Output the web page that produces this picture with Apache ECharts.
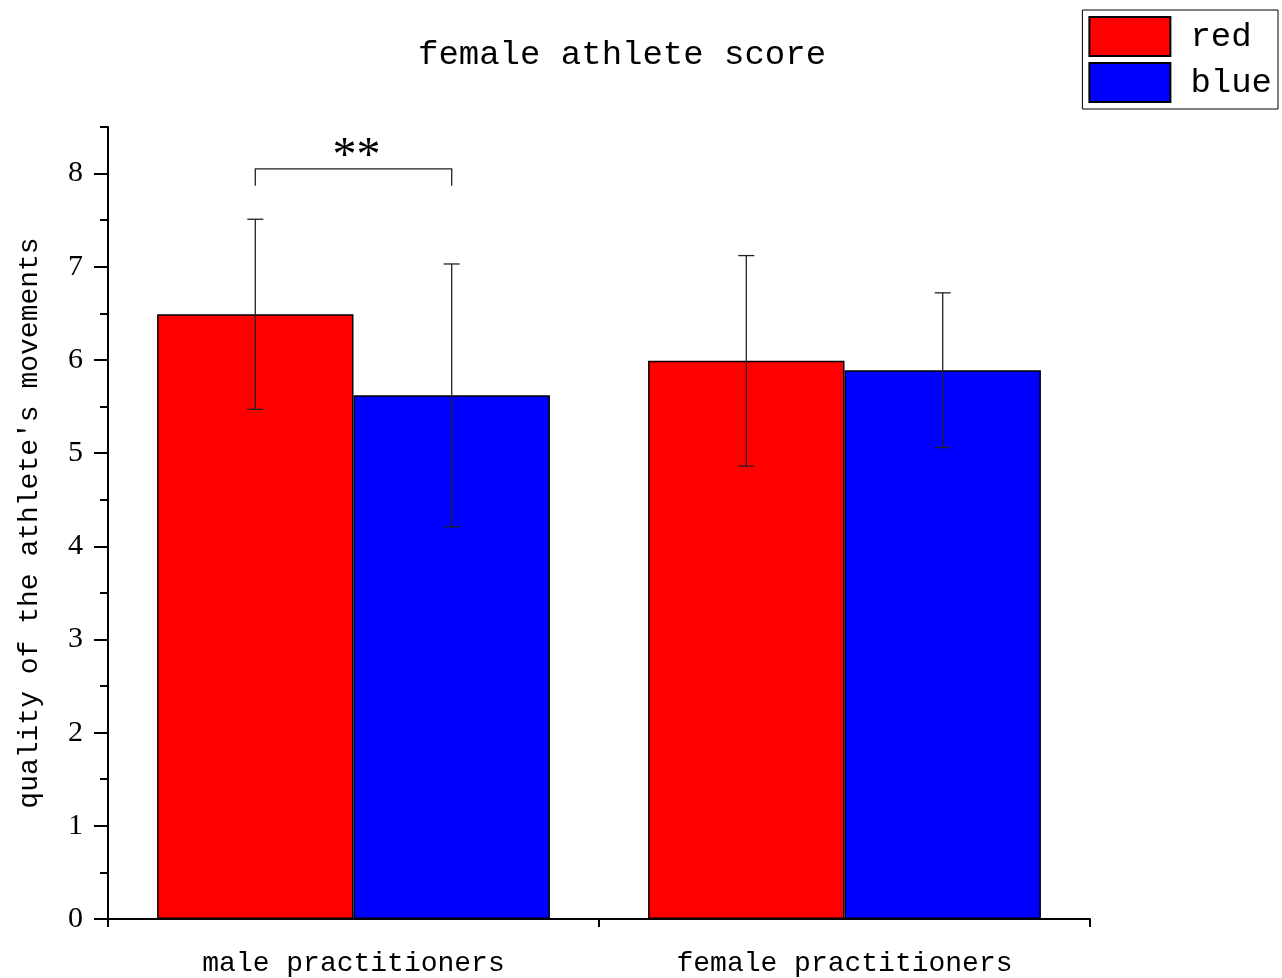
<!DOCTYPE html>
<html>
<head>
<meta charset="utf-8">
<title>female athlete score</title>
<script src="https://cdn.jsdelivr.net/npm/echarts@6/dist/echarts.min.js"></script>
<style>
  html, body { margin: 0; padding: 0; background: #fff; }
  #chart { width: 1282px; height: 978px; }
</style>
</head>
<body>
<div id="chart"></div>
<script>
// data
const categories = ['male practitioners', 'female practitioners']
const redMean = [6.49, 5.99]
const redErr = [1.02, 1.13]
const blueMean = [5.62, 5.89]
const blueErr = [1.41, 0.83]
const yTicks = [0, 1, 2, 3, 4, 5, 6, 7, 8]
const yMinorTicks = [0.5, 1.5, 2.5, 3.5, 4.5, 5.5, 6.5, 7.5, 8.5]
// significance bracket: [category, top, leg bottom, mark]
const sigBracket = [[0, 8.05, 7.87, '**']]

const mono = "'Liberation Mono', 'DejaVu Sans Mono', monospace"
const serif = "'Liberation Serif', 'DejaVu Serif', serif"

// error bar rows: [category, low, high, side] side -1 = red, 1 = blue
const errRows = []
categories.forEach((c, i) => {
  errRows.push([i, redMean[i] - redErr[i], redMean[i] + redErr[i], -1])
  errRows.push([i, blueMean[i] - blueErr[i], blueMean[i] + blueErr[i], 1])
})

const myChart = echarts.init(document.getElementById('chart'))
myChart.setOption({
  animation: false,
  title: {
    text: 'female athlete score',
    left: 413,
    top: 33,
    textStyle: { fontFamily: mono, fontSize: 34, fontWeight: 'normal', color: '#000' }
  },
  legend: {
    orient: 'vertical',
    right: 4,
    top: 10,
    padding: 6,
    itemGap: 5,
    itemWidth: 81,
    itemHeight: 39,
    icon: 'rect',
    borderColor: '#000',
    borderWidth: 1,
    data: ['red', 'blue'],
    textStyle: { fontFamily: mono, fontSize: 34, lineHeight: 39, color: '#000', padding: [0, 0, 0, 15] }
  },
  grid: { left: 108, right: 192, top: 127, bottom: 59 },
  xAxis: [
    {
      type: 'category',
      data: categories,
      axisLine: { lineStyle: { color: '#000', width: 2 } },
      axisTick: { alignWithLabel: true, length: 14, lineStyle: { color: '#000', width: 2 } },
      axisLabel: { fontFamily: mono, fontSize: 28, color: '#000', margin: 31 }
    },
    {
      type: 'value',
      position: 'bottom',
      min: 0,
      max: 2,
      interval: 1,
      axisLine: { show: false },
      axisLabel: { show: false },
      splitLine: { show: false },
      axisTick: { length: 8, lineStyle: { color: '#000', width: 2 } }
    }
  ],
  yAxis: [
    {
      type: 'value',
      min: 0,
      max: 8.5,
      name: "quality of the athlete's movements",
      nameLocation: 'middle',
      nameGap: 64,
      nameTextStyle: { fontFamily: mono, fontSize: 28, color: '#000' },
      splitLine: { show: false },
      axisLine: { show: true, lineStyle: { color: '#000', width: 2 } },
      axisTick: { show: true, length: 14, customValues: yTicks, lineStyle: { color: '#000', width: 2 } },
      axisLabel: { customValues: yTicks, fontFamily: serif, fontSize: 30, color: '#000', margin: 25 }
    },
    {
      type: 'value',
      position: 'left',
      min: 0,
      max: 8.5,
      splitLine: { show: false },
      axisLine: { show: false },
      axisLabel: { show: false },
      axisTick: { show: true, length: 8, customValues: yMinorTicks, lineStyle: { color: '#000', width: 2 } }
    }
  ],
  series: [
    {
      name: 'red',
      type: 'bar',
      data: redMean,
      barWidth: '40%',
      barGap: 0,
      itemStyle: { color: '#ff0000', borderColor: '#000', borderWidth: 1.5 }
    },
    {
      name: 'blue',
      type: 'bar',
      data: blueMean,
      barWidth: '40%',
      barGap: 0,
      itemStyle: { color: '#0000ff', borderColor: '#000', borderWidth: 1.5 }
    },
    {
      type: 'custom',
      name: 'err',
      z: 5,
      data: errRows,
      renderItem(params, api) {
        const band = api.size([1, 0])[0]
        const off = band * 0.2 * api.value(3)
        const lo = api.coord([api.value(0), api.value(1)])
        const hi = api.coord([api.value(0), api.value(2)])
        const x = lo[0] + off
        const cap = 8
        const style = { stroke: '#222', lineWidth: 1.3 }
        return {
          type: 'group',
          children: [
            { type: 'line', shape: { x1: x, y1: lo[1], x2: x, y2: hi[1] }, style },
            { type: 'line', shape: { x1: x - cap, y1: hi[1], x2: x + cap, y2: hi[1] }, style },
            { type: 'line', shape: { x1: x - cap, y1: lo[1], x2: x + cap, y2: lo[1] }, style }
          ]
        }
      }
    },
    {
      type: 'custom',
      name: 'sig',
      z: 5,
      data: sigBracket,
      renderItem(params, api) {
        const band = api.size([1, 0])[0]
        const off = band * 0.2
        const top = api.coord([api.value(0), api.value(1)])
        const leg = api.coord([api.value(0), api.value(2)])
        const x1 = top[0] - off
        const x2 = top[0] + off
        const style = { stroke: '#222', lineWidth: 1.3, fill: null }
        return {
          type: 'group',
          children: [
            { type: 'polyline', shape: { points: [[x1, leg[1]], [x1, top[1]], [x2, top[1]], [x2, leg[1]]] }, style },
            {
              type: 'text',
              x: (x1 + x2) / 2 + 3,
              y: top[1] - 12,
              style: { text: sigBracket[params.dataIndex][3], fontFamily: serif, fontSize: 48, fill: '#000', align: 'center', verticalAlign: 'middle' }
            }
          ]
        }
      }
    }
  ]
})
</script>
</body>
</html>
